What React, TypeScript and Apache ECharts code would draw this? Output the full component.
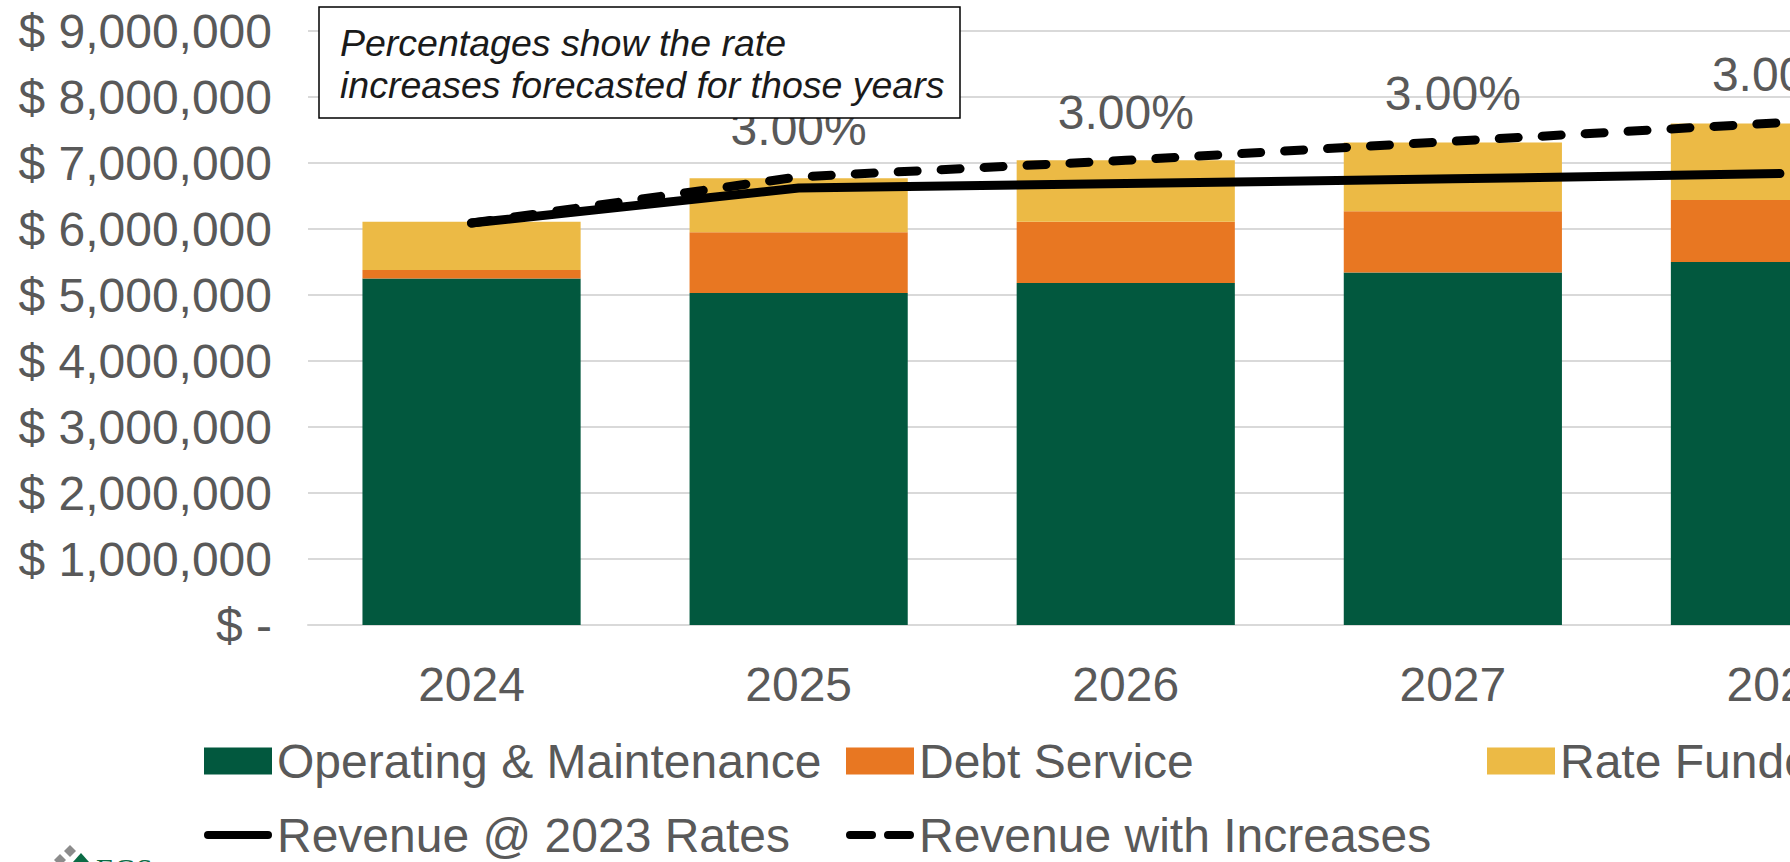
import React, { useEffect, useRef } from "react";
import * as echarts from "echarts";

const years = ["2024", "2025", "2026", "2027", "2028"];
const operatingMaintenance = [5250000, 5030000, 5180000, 5340000, 5500000];
const debtService = [130000, 920000, 930000, 930000, 940000];
const rateFundedCapital = [730000, 820000, 930000, 1040000, 1160000];
const revenueAt2023Rates = [6090000, 6620000, 6690000, 6760000, 6840000];
const revenueWithIncreases = [6090000, 6790000, 7040000, 7330000, 7610000];
const rateIncreaseLabels = ["", "3.00%", "3.00%", "3.00%", "3.00%"];
const noteLines = ["Percentages show the rate", "increases forecasted for those years"];

const FONT = "'Liberation Sans', Arial, Helvetica, sans-serif";
const GRAY = "#595959";
const GREEN = "#02583E";
const ORANGE = "#E87722";
const YELLOW = "#ECBA45";
const FS = 48;

export default function App() {
  const ref = useRef<HTMLDivElement>(null);
  useEffect(() => {
    if (!ref.current) return;
    const chart = echarts.init(ref.current, null, { renderer: "svg" });
    const legendCommon = {
      itemWidth: 68,
      itemHeight: 27,
      itemGap: 0,
      padding: 0,
      selectedMode: false,
      textStyle: { fontSize: FS, color: GRAY, fontFamily: FONT },
    };
    chart.setOption({
      animation: false,
      backgroundColor: "#ffffff",
      textStyle: { fontFamily: FONT },
      grid: { left: 308, top: 31, height: 594, width: 1635.5 },
      xAxis: {
        type: "category",
        data: years,
        axisTick: { show: false },
        axisLine: { show: true, lineStyle: { color: "#d9d9d9", width: 2 } },
        axisLabel: { fontSize: FS, color: GRAY, margin: 35, fontFamily: FONT },
      },
      yAxis: {
        type: "value",
        min: 0,
        max: 9000000,
        interval: 1000000,
        axisLine: { show: false },
        axisTick: { show: false },
        splitLine: { lineStyle: { color: "#d9d9d9", width: 2 } },
        axisLabel: {
          fontSize: FS,
          color: GRAY,
          margin: 36,
          fontFamily: FONT,
          formatter: (v: number) => (v === 0 ? "$ -" : "$ " + v.toLocaleString("en-US")),
        },
      },
      legend: [
        { ...legendCommon, icon: "rect", data: ["Operating & Maintenance"], left: 204, top: 737 },
        { ...legendCommon, icon: "rect", data: ["Debt Service"], left: 846, top: 737 },
        { ...legendCommon, icon: "rect", data: ["Rate Funded Capital"], left: 1487, top: 737 },
        {
          ...legendCommon,
          itemHeight: 9,
          icon: "path://M4,0H64A4,4,0,0,1,64,8H4A4,4,0,0,1,4,0Z",
          data: ["Revenue @ 2023 Rates"],
          left: 204,
          top: 811,
        },
        {
          ...legendCommon,
          itemHeight: 9,
          icon: "path://M4,0H26A4,4,0,0,1,26,8H4A4,4,0,0,1,4,0ZM42,0H64A4,4,0,0,1,64,8H42A4,4,0,0,1,42,0Z",
          data: ["Revenue with Increases"],
          left: 846,
          top: 811,
        },
      ],
      series: [
        {
          name: "Operating & Maintenance",
          type: "bar",
          stack: "total",
          barCategoryGap: "33.3%",
          data: operatingMaintenance,
          itemStyle: { color: GREEN },
        },
        {
          name: "Debt Service",
          type: "bar",
          stack: "total",
          data: debtService,
          itemStyle: { color: ORANGE },
        },
        {
          name: "Rate Funded Capital",
          type: "bar",
          stack: "total",
          data: rateFundedCapital,
          itemStyle: { color: YELLOW },
        },
        {
          name: "Revenue @ 2023 Rates",
          type: "line",
          data: revenueAt2023Rates,
          symbol: "none",
          z: 5,
          lineStyle: { color: "#000000", width: 9, cap: "round", join: "round" },
          itemStyle: { color: "#000000" },
        },
        {
          name: "Revenue with Increases",
          type: "line",
          data: revenueWithIncreases,
          symbol: "none",
          z: 6,
          lineStyle: { color: "#000000", width: 9, type: [19, 24], cap: "round", join: "round" },
          itemStyle: { color: "#000000" },
        },
        {
          name: "Rate Increase",
          type: "line",
          data: revenueWithIncreases,
          symbol: "circle",
          symbolSize: 2,
          z: 7,
          silent: true,
          lineStyle: { width: 0, color: "transparent" },
          itemStyle: { color: "transparent" },
          label: {
            show: true,
            position: "top",
            distance: 23,
            fontSize: FS,
            color: GRAY,
            fontFamily: FONT,
            formatter: (p: any) => rateIncreaseLabels[p.dataIndex],
          },
        },
      ],
      graphic: [
        {
          type: "rect",
          z: 100,
          shape: { x: 319, y: 7, width: 641, height: 111 },
          style: { fill: "#ffffff", stroke: "#000000", lineWidth: 1.5 },
        },
        {
          type: "text",
          z: 101,
          x: 340,
          y: 43,
          style: {
            text: noteLines[0],
            fontSize: 37.5,
            fontStyle: "italic",
            fontFamily: FONT,
            fill: "#1a1a1a",
            verticalAlign: "middle",
          },
        },
        {
          type: "text",
          z: 101,
          x: 340,
          y: 85,
          style: {
            text: noteLines[1],
            fontSize: 37.5,
            fontStyle: "italic",
            fontFamily: FONT,
            fill: "#1a1a1a",
            verticalAlign: "middle",
          },
        },
        {
          type: "polygon",
          z: 50,
          shape: { points: [[70, 845], [76, 851], [70, 857], [64, 851]] },
          style: { fill: "#8c8c8c" },
        },
        {
          type: "polygon",
          z: 50,
          shape: { points: [[60, 854], [66, 860], [60, 866], [54, 860]] },
          style: { fill: "#8c8c8c" },
        },
        {
          type: "polygon",
          z: 50,
          shape: { points: [[81, 853], [89, 862], [73, 862]] },
          style: { fill: "#0b6b45" },
        },
        {
          type: "text",
          z: 50,
          x: 96,
          y: 853,
          style: {
            text: "EGS",
            fontSize: 30,
            fontFamily: "'Liberation Serif', 'DejaVu Serif', serif",
            fill: "#0b6b45",
            verticalAlign: "top",
          },
        },
      ],
    });
    return () => chart.dispose();
  }, []);
  return (
    <div
      style={{
        position: "fixed",
        left: 0,
        top: 0,
        width: 1790,
        height: 862,
        overflow: "hidden",
        background: "#ffffff",
      }}
    >
      <div ref={ref} style={{ width: 2300, height: 900 }} />
    </div>
  );
}
